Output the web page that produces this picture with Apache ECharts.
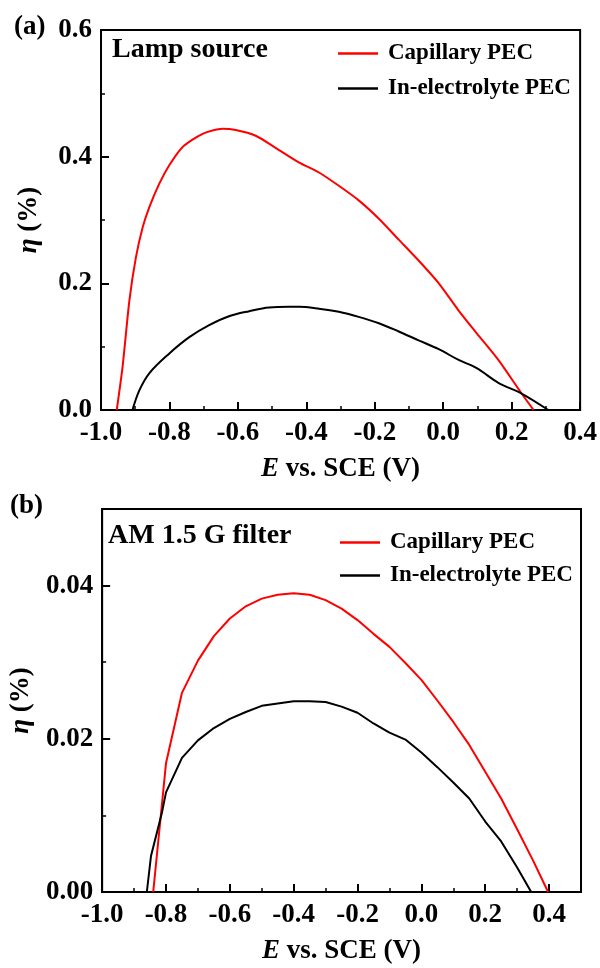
<!DOCTYPE html>
<html>
<head>
<meta charset="utf-8">
<script src="https://cdn.jsdelivr.net/npm/echarts@6/dist/echarts.min.js"></script>
<style>
html,body{margin:0;padding:0;background:#fff;}
#chart{width:600px;height:968px;}
</style>
</head>
<body>
<div id="chart"></div>
<script>
// (a) Lamp source
const lampCapE = [-0.954, -0.937, -0.917, -0.898, -0.878, -0.859, -0.830, -0.801, -0.762, -0.703, -0.645, -0.606, -0.548, -0.490, -0.422, -0.363, -0.305, -0.247, -0.188, -0.130, -0.072, -0.013, 0.045, 0.098, 0.161, 0.229, 0.264];
const lampCapEta = [0, 0.068, 0.173, 0.241, 0.289, 0.320, 0.357, 0.386, 0.415, 0.436, 0.444, 0.442, 0.433, 0.414, 0.391, 0.375, 0.354, 0.331, 0.302, 0.269, 0.236, 0.200, 0.157, 0.121, 0.079, 0.026, 0];
const lampElecE = [-0.908, -0.888, -0.859, -0.801, -0.742, -0.684, -0.626, -0.567, -0.509, -0.451, -0.422, -0.363, -0.305, -0.247, -0.188, -0.130, -0.072, -0.013, 0.045, 0.098, 0.161, 0.229, 0.307];
const lampElecEta = [0, 0.031, 0.058, 0.089, 0.115, 0.134, 0.148, 0.156, 0.162, 0.163, 0.163, 0.160, 0.155, 0.147, 0.137, 0.124, 0.110, 0.096, 0.079, 0.066, 0.043, 0.026, 0];

// (b) AM 1.5 G filter
const amCapE = [-0.84, -0.80, -0.75, -0.70, -0.65, -0.60, -0.55, -0.50, -0.45, -0.40, -0.35, -0.30, -0.25, -0.20, -0.15, -0.10, -0.05, 0.00, 0.05, 0.10, 0.15, 0.20, 0.25, 0.30, 0.35, 0.397];
const amCapEta = [0, 0.0168, 0.0260, 0.0302, 0.0334, 0.0357, 0.0373, 0.0383, 0.0388, 0.0390, 0.0388, 0.0381, 0.0370, 0.0355, 0.0337, 0.0320, 0.0299, 0.0277, 0.0250, 0.0222, 0.0192, 0.0157, 0.0122, 0.0082, 0.0041, 0];
const amElecE = [-0.86, -0.847, -0.813, -0.80, -0.75, -0.70, -0.65, -0.60, -0.55, -0.50, -0.45, -0.40, -0.35, -0.30, -0.25, -0.20, -0.15, -0.10, -0.05, 0.00, 0.05, 0.10, 0.15, 0.20, 0.25, 0.30, 0.344];
const amElecEta = [0, 0.0047, 0.0103, 0.0130, 0.0175, 0.0198, 0.0214, 0.0226, 0.0235, 0.0243, 0.0246, 0.0249, 0.0249, 0.0248, 0.0242, 0.0234, 0.0220, 0.0208, 0.0199, 0.0182, 0.0163, 0.0143, 0.0122, 0.0092, 0.0066, 0.0032, 0];

const seriesNames = ['Capillary PEC', 'In-electrolyte PEC'];
const panelLabels = ['(a)', '(b)'];
const panelTitles = ['Lamp source', 'AM 1.5 G filter'];
const xTitle = '{i|E} vs. SCE (V)';
const yTitle = '{i|η} (%)';

const FONT = '"Liberation Serif", "Times New Roman", serif';
const zip = (a, b) => a.map((v, i) => [v, b[i]]);

const nameStyle = {
  fontFamily: FONT, fontWeight: 'bold', fontSize: 27, color: '#000',
  rich: { i: { fontFamily: FONT, fontWeight: 'bold', fontStyle: 'italic', fontSize: 27, color: '#000' } }
};
const labelStyle = { color: '#000', fontFamily: FONT, fontWeight: 'bold', fontSize: 27 };

function axisBase(extra) {
  return Object.assign({
    type: 'value',
    axisLine: { show: true, onZero: false, lineStyle: { color: '#000', width: 2 } },
    axisTick: { show: true, inside: true, length: 8, lineStyle: { color: '#000', width: 2 } },
    minorTick: { show: true, splitNumber: 2, length: 4, lineStyle: { color: '#000', width: 1.5 } },
    splitLine: { show: false },
    minorSplitLine: { show: false },
    nameLocation: 'middle',
    nameTextStyle: nameStyle
  }, extra);
}

const chart = echarts.init(document.getElementById('chart'), null, { renderer: 'canvas' });

const legendText = { fontFamily: FONT, fontWeight: 'bold', fontSize: 23, color: '#000', lineHeight: 23, padding: [0, 0, 0, 5] };

const option = {
  animation: false,
  backgroundColor: '#fff',
  grid: [
    { left: 101, top: 30, width: 480, height: 380, show: true, borderColor: '#000', borderWidth: 2, containLabel: false },
    { left: 101, top: 509, width: 480, height: 383, show: true, borderColor: '#000', borderWidth: 2, containLabel: false }
  ],
  xAxis: [
    axisBase({ gridIndex: 0, min: -1.0, max: 0.4, interval: 0.2, name: xTitle, nameGap: 46,
      axisLabel: Object.assign({}, labelStyle, { margin: 10, formatter: v => v.toFixed(1) }) }),
    axisBase({ gridIndex: 1, min: -1.0, max: 0.5, interval: 0.2, name: xTitle, nameGap: 46,
      axisLabel: Object.assign({}, labelStyle, { margin: 10, showMaxLabel: false, formatter: v => v.toFixed(1) }) })
  ],
  yAxis: [
    axisBase({ gridIndex: 0, min: 0, max: 0.6, interval: 0.2, name: yTitle, nameGap: 58,
      axisLabel: Object.assign({}, labelStyle, { margin: 9, formatter: v => v.toFixed(1) }) }),
    axisBase({ gridIndex: 1, min: 0, max: 0.05, interval: 0.02, name: yTitle, nameGap: 58,
      axisLabel: Object.assign({}, labelStyle, { margin: 9, showMaxLabel: false, formatter: v => v.toFixed(2) }) })
  ],
  legend: [
    { data: seriesNames, orient: 'vertical', left: 333, top: 37, itemWidth: 40, itemHeight: 2.5, itemGap: 12, icon: 'rect', textStyle: legendText },
    { data: seriesNames, orient: 'vertical', left: 335, top: 526, itemWidth: 40, itemHeight: 2.5, itemGap: 10, icon: 'rect', textStyle: legendText }
  ],
  graphic: [
    { type: 'text', left: 14, top: 14, style: { text: panelLabels[0], font: 'bold 27px ' + FONT, fill: '#000' } },
    { type: 'text', left: 10, top: 493, style: { text: panelLabels[1], font: 'bold 27px ' + FONT, fill: '#000' } },
    { type: 'text', left: 112, top: 36, style: { text: panelTitles[0], font: 'bold 28px ' + FONT, fill: '#000' } },
    { type: 'text', left: 108, top: 522, style: { text: panelTitles[1], font: 'bold 28px ' + FONT, fill: '#000' } }
  ],
  series: [
    { name: seriesNames[0], type: 'line', xAxisIndex: 0, yAxisIndex: 0, data: zip(lampCapE, lampCapEta), showSymbol: false, smooth: 0.25, color: '#ff0000', lineStyle: { color: '#ff0000', width: 2 } },
    { name: seriesNames[1], type: 'line', xAxisIndex: 0, yAxisIndex: 0, data: zip(lampElecE, lampElecEta), showSymbol: false, smooth: 0.35, color: '#000000', lineStyle: { color: '#000000', width: 2 } },
    { name: seriesNames[0], type: 'line', xAxisIndex: 1, yAxisIndex: 1, data: zip(amCapE, amCapEta), showSymbol: false, color: '#ff0000', lineStyle: { color: '#ff0000', width: 2 } },
    { name: seriesNames[1], type: 'line', xAxisIndex: 1, yAxisIndex: 1, data: zip(amElecE, amElecEta), showSymbol: false, color: '#000000', lineStyle: { color: '#000000', width: 2 } }
  ]
};
chart.setOption(option);
</script>
</body>
</html>
